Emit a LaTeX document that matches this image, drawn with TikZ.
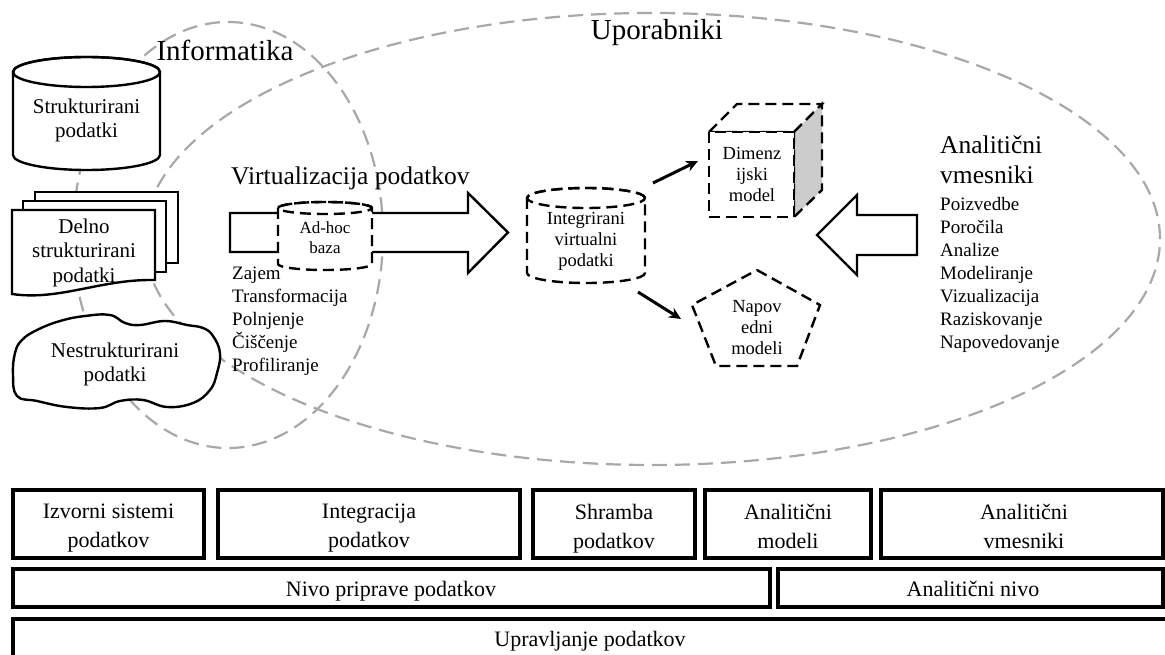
\documentclass[tikz,border=0pt]{standalone}
\usepackage{fontspec}
\setmainfont{Liberation Serif}
\usetikzlibrary{arrows.meta}
\definecolor{ellgray}{RGB}{168,168,168}
\definecolor{facegray}{RGB}{204,204,204}
\begin{document}
\begin{tikzpicture}[x=1pt,y=-1pt,
  shp/.style={draw=black,line width=2.4pt,fill=white},
  dshp/.style={draw=black,line width=2.4pt,fill=white,dash pattern=on 11pt off 6pt},
  gell/.style={draw=ellgray,line width=2.2pt,dash pattern=on 15pt off 8pt},
  lbox/.style={draw=black,line width=3.4pt,fill=white},
  conn/.style={draw=black,line width=3pt,-{Stealth[length=12pt,width=11pt]}},
  title/.style={inner sep=0pt,font=\fontsize{29}{33}\selectfont},
  sub/.style={inner sep=0pt,font=\fontsize{25.5}{30}\selectfont},
  big/.style={inner sep=0pt,align=center,font=\fontsize{21}{24.5}\selectfont},
  mid/.style={inner sep=0pt,align=center,font=\fontsize{18.5}{21}\selectfont},
  small/.style={inner sep=0pt,align=center,font=\fontsize{17}{20}\selectfont},
  lst/.style={inner sep=0pt,align=left,font=\fontsize{19}{23}\selectfont},
  boxt/.style={inner sep=0pt,align=center,font=\fontsize{22}{29}\selectfont}
]
\useasboundingbox (0,0) rectangle (1165,655);

% ---- dashed gray ellipses
\draw[gell] (228,235) ellipse [x radius=155pt, y radius=213pt];
\draw[gell] (652,239) ellipse [x radius=508pt, y radius=226pt];

% ---- structured data cylinder
\path[shp] (13,72) -- (13,155) arc[start angle=180,end angle=360,x radius=73.5pt,y radius=15pt]
  -- (160,72) arc[start angle=0,end angle=180,x radius=73.5pt,y radius=15pt] -- cycle;
\draw[line width=2.4pt] (86.5,72) ellipse [x radius=73.5pt, y radius=15pt];
\node[big,anchor=north] (str) at (86.5,98.5) {Strukturirani\\podatki};

% ---- semi-structured documents
\path[shp] (35,192) rectangle (178,263);
\path[shp] (23,201) rectangle (166,272);
\path[shp] (12,210) -- (155,210) -- (155,280) .. controls (100,279) and (60,301) .. (12,294) -- cycle;
\node[big,anchor=north] (dstr) at (84,218.5) {Delno\\strukturirani\\podatki};

% ---- unstructured cloud
\path[shp] plot[smooth cycle,tension=0.7] coordinates {
 (37,330) (60,321) (85,316) (110,315) (125,323) (140,325) (165,321) (187,325)
 (203,328) (213,336) (220,353) (217,373) (210,390) (193,403) (167,407) (143,400)
 (120,401) (100,408) (67,407) (37,401) (17,396) (13,375) (15,353) (22,340)};
\node[big,anchor=north] (nstr) at (115,342.5) {Nestrukturirani\\podatki};

% ---- labels of the ellipses
\node[title,anchor=base] (inf) at (225,61) {Informatika};
\node[title,anchor=base] (upo) at (657,40) {Uporabniki};

% ---- virtualization arrow
\path[shp] (230,213) -- (468,213) -- (468,193) -- (508,232.5) -- (468,273) -- (468,252) -- (230,252) -- cycle;
\node[sub,anchor=base west] (virt) at (231,185) {Virtualizacija podatkov};

% ---- ad-hoc database
\path[dshp] (278,208) -- (278,264) arc[start angle=180,end angle=360,x radius=47pt,y radius=6pt]
  -- (372,208) arc[start angle=0,end angle=180,x radius=47pt,y radius=6pt] -- cycle;
\draw[line width=2.4pt,dash pattern=on 11pt off 6pt] (325,208) ellipse [x radius=47pt, y radius=6pt];
\node[small,anchor=north] (adhoc) at (325,221.5) {Ad-hoc\\baza};

\node[lst,anchor=north west] (etl) at (232,267) {Zajem\\Transformacija\\Polnjenje\\Čiščenje\\Profiliranje};

% ---- integrated virtual data
\path[dshp] (527,198) -- (527,273) arc[start angle=180,end angle=360,x radius=59pt,y radius=10pt]
  -- (645,198) arc[start angle=0,end angle=180,x radius=59pt,y radius=10pt] -- cycle;
\draw[line width=2.4pt,dash pattern=on 11pt off 6pt] (586,198) ellipse [x radius=59pt, y radius=10pt];
\node[mid,anchor=north] (intg) at (586,212.5) {Integrirani\\virtualni\\podatki};

% ---- dimensional model cube
\path[dshp] (709,132) -- (737,104) -- (822,104) -- (794,132) -- cycle;
\path[dshp,fill=facegray] (794,132) -- (822,104) -- (822,190) -- (794,217) -- cycle;
\path[dshp] (709,132) rectangle (794,217);
\node[mid,anchor=north] (dim) at (752,147.5) {Dimenz\\ijski\\model};

% ---- predictive models pentagon
\path[dshp] (757,270) -- (820,305) -- (797,366) -- (716,366) -- (692,305) -- cycle;
\node[mid,anchor=north] (pred) at (757,300.5) {Napov\\edni\\modeli};

% ---- connectors
\coordinate (c1s) at (653,183);
\coordinate (c1e) at (698,161);
\coordinate (c2s) at (638,292);
\coordinate (c2e) at (681,319);
\draw[conn] (c1s) -- (c1e);
\draw[conn] (c2s) -- (c2e);

% ---- analytic middleware arrow
\path[shp] (917,215) -- (857,215) -- (857,195) -- (817,235) -- (857,275) -- (857,255) -- (917,255) -- cycle;
\node[inner sep=0pt,align=left,font=\fontsize{25.5}{30}\selectfont,anchor=north west] (avm) at (940,135.5) {Analitični\\vmesniki};
\node[lst,anchor=north west] (alist) at (940,197) {Poizvedbe\\Poročila\\Analize\\Modeliranje\\Vizualizacija\\Raziskovanje\\Napovedovanje};

% ---- bottom layers
\path[lbox] (13,490) rectangle (204,558);
\path[lbox] (218,490) rectangle (520,558);
\path[lbox] (533,490) rectangle (695,558);
\path[lbox] (705,490) rectangle (871,558);
\path[lbox] (881,490) rectangle (1163,558);
\node[boxt,anchor=north] (b1) at (108.5,504) {Izvorni sistemi\\podatkov};
\node[boxt,anchor=north] (b2) at (369,504) {Integracija\\podatkov};
\node[boxt,anchor=north] (b3) at (614,504) {Shramba\\podatkov};
\node[boxt,anchor=north] (b4) at (788,504) {Analitični\\modeli};
\node[boxt,anchor=north] (b5) at (1024,504) {Analitični\\vmesniki};

\path[lbox] (13,569) rectangle (770,607);
\path[lbox] (778,569) rectangle (1163,607);
\node[boxt,anchor=base] (l1) at (391,596.5) {Nivo priprave podatkov};
\node[boxt,anchor=base] (l2) at (973,596.5) {Analitični nivo};

\path[lbox] (13,619) rectangle (1168,664);
\node[boxt,anchor=base] (l3) at (590,646.5) {Upravljanje podatkov};
\end{tikzpicture}
\end{document}
